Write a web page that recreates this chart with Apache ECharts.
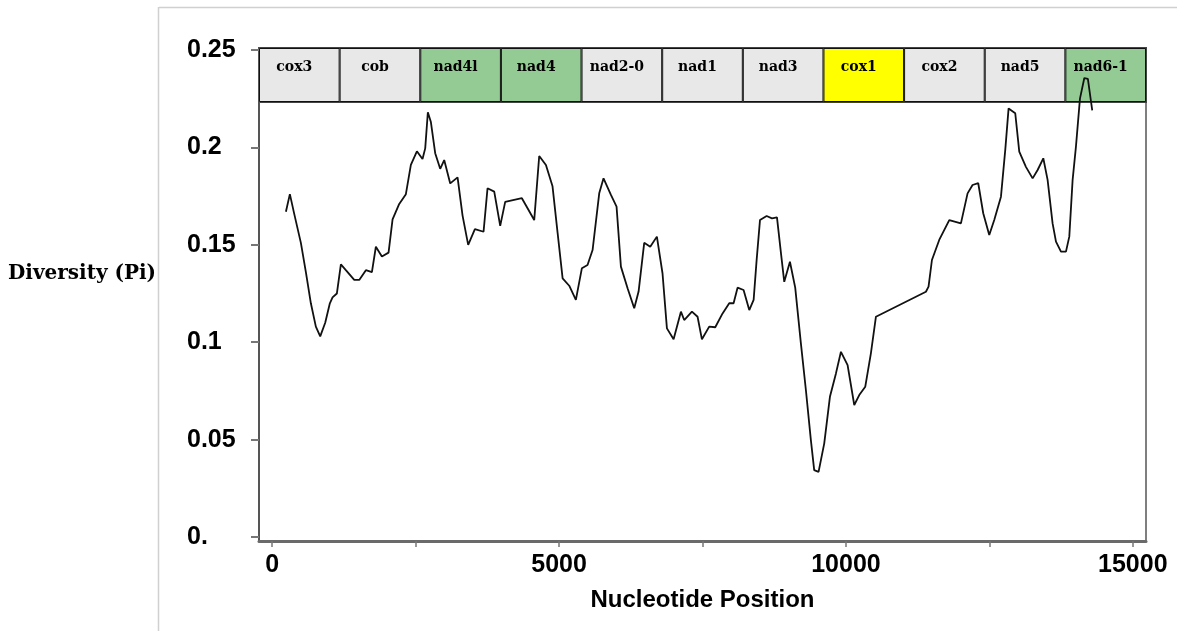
<!DOCTYPE html>
<html>
<head>
<meta charset="utf-8">
<script src="https://cdn.jsdelivr.net/npm/echarts@6/dist/echarts.min.js"></script>
<style>
html,body{margin:0;padding:0;background:#fff;}
#chart{width:1177px;height:631px;}
</style>
</head>
<body>
<div id="chart"></div>
<script>
// ---- data ----
const positions = [239, 308, 383, 500, 587, 674, 761, 837, 924, 1005, 1052, 1127, 1197, 1284, 1430, 1517, 1633, 1738, 1807, 1912, 2028, 2098, 2214, 2330, 2417, 2522, 2620, 2667, 2713, 2766, 2841, 2928, 2998, 3103, 3231, 3318, 3416, 3533, 3684, 3753, 3870, 3974, 4061, 4352, 4567, 4654, 4771, 4886, 4975, 5062, 5177, 5293, 5398, 5496, 5584, 5700, 5775, 5904, 6002, 6078, 6194, 6310, 6386, 6484, 6589, 6705, 6803, 6880, 6996, 7124, 7181, 7316, 7414, 7490, 7617, 7722, 7850, 7966, 8042, 8111, 8216, 8315, 8391, 8443, 8502, 8618, 8711, 8798, 8868, 8925, 9024, 9116, 9215, 9302, 9389, 9447, 9523, 9622, 9721, 9826, 9913, 10029, 10145, 10232, 10337, 10435, 10523, 11394, 11440, 11499, 11626, 11801, 12004, 12120, 12207, 12306, 12393, 12498, 12585, 12702, 12777, 12835, 12951, 13021, 13137, 13254, 13341, 13440, 13515, 13602, 13661, 13748, 13835, 13893, 13951, 14009, 14079, 14155, 14217, 14241, 14293];
const diversity = [0.167, 0.176, 0.166, 0.151, 0.136, 0.120, 0.108, 0.103, 0.110, 0.120, 0.123, 0.125, 0.140, 0.137, 0.132, 0.132, 0.137, 0.136, 0.149, 0.144, 0.146, 0.163, 0.171, 0.176, 0.191, 0.198, 0.194, 0.1995, 0.218, 0.213, 0.197, 0.189, 0.1935, 0.1815, 0.1846, 0.165, 0.150, 0.158, 0.1567, 0.179, 0.1773, 0.1597, 0.172, 0.1739, 0.1627, 0.1956, 0.191, 0.180, 0.156, 0.1328, 0.1290, 0.1217, 0.138, 0.1396, 0.1473, 0.1764, 0.1841, 0.1756, 0.1696, 0.1388, 0.1277, 0.1174, 0.126, 0.151, 0.149, 0.1542, 0.1354, 0.1071, 0.1015, 0.1157, 0.1114, 0.1157, 0.1131, 0.1015, 0.108, 0.1077, 0.1148, 0.120, 0.120, 0.128, 0.1268, 0.1165, 0.1217, 0.142, 0.1627, 0.1648, 0.1636, 0.1641, 0.1456, 0.131, 0.1413, 0.128, 0.0994, 0.0755, 0.0498, 0.0344, 0.0335, 0.0481, 0.072, 0.084, 0.0951, 0.0883, 0.0678, 0.0729, 0.0772, 0.0943, 0.1131, 0.1259, 0.1285, 0.1422, 0.1525, 0.1627, 0.161, 0.1764, 0.1807, 0.1816, 0.1662, 0.155, 0.1627, 0.1747, 0.1987, 0.220, 0.2175, 0.1978, 0.190, 0.1841, 0.1884, 0.1944, 0.1833, 0.161, 0.1516, 0.1465, 0.1465, 0.1542, 0.1833, 0.2004, 0.225, 0.2356, 0.2352, 0.230, 0.219];

const genes = ['cox3', 'cob', 'nad4l', 'nad4', 'nad2-0', 'nad1', 'nad3', 'cox1', 'cox2', 'nad5', 'nad6-1'];

const xTickValues = [0, 2500, 5000, 7500, 10000, 12500, 15000];
const xLabelValues = [0, 5000, 10000, 15000];
const yTickValues = [0, 0.05, 0.1, 0.15, 0.2, 0.25];
const yTickLabels = ['0.', '0.05', '0.1', '0.15', '0.2', '0.25'];

// ---- styles ----
const geneFill = { 'nad4l': '#94cb94', 'nad4': '#94cb94', 'nad6-1': '#94cb94', 'cox1': '#ffff00' };
const defaultFill = '#e8e8e8';

const chart = echarts.init(document.getElementById('chart'), null, { renderer: 'canvas' });

const linePoints = positions.map((p, i) => [p, diversity[i]]);
const bandData = genes.map(g => ({ value: 1, itemStyle: { color: geneFill[g] || defaultFill } }));

const tickFont = { fontFamily: '"Liberation Sans", Arial, sans-serif', fontWeight: 'bold', fontSize: 25, color: '#000' };

chart.setOption({
  animation: false,
  backgroundColor: '#fff',
  graphic: [
    { type: 'line', shape: { x1: 159, y1: 7.5, x2: 1177, y2: 7.5 }, style: { stroke: '#d0d0d0', lineWidth: 1.5 }, z: 0 },
    { type: 'line', shape: { x1: 158.5, y1: 7, x2: 158.5, y2: 631 }, style: { stroke: '#d0d0d0', lineWidth: 1.5 }, z: 0 },
    { type: 'text', left: 8, top: 264, style: { text: 'Diversity (Pi)', font: 'bold 20px "DejaVu Serif", serif', fill: '#000' }, z: 10 }
  ],
  grid: [
    { left: 259, right: 31, top: 48, bottom: 90, show: true, borderColor: '#555', borderWidth: 1.5, backgroundColor: 'transparent' },
    { left: 259, right: 31, top: 48, height: 54, show: true, borderColor: '#444', borderWidth: 2, backgroundColor: 'transparent' }
  ],
  xAxis: [
    {
      type: 'value', gridIndex: 0, min: -230, max: 15230,
      axisLine: { show: true, onZero: false, lineStyle: { color: '#6a6a6a', width: 3 } },
      axisTick: { show: true, customValues: xTickValues, length: 6, lineStyle: { color: '#777', width: 1.5 } },
      axisLabel: { show: true, customValues: xLabelValues, margin: 12, formatter: v => String(v), ...tickFont },
      splitLine: { show: false },
      name: 'Nucleotide Position', nameLocation: 'middle', nameGap: 47,
      nameTextStyle: { fontFamily: '"Liberation Sans", Arial, sans-serif', fontWeight: 'bold', fontSize: 24, color: '#000' }
    },
    {
      type: 'category', gridIndex: 1, data: genes,
      axisLine: { show: false }, axisTick: { show: false }, axisLabel: { show: false }, splitLine: { show: false }
    }
  ],
  yAxis: [
    {
      type: 'value', gridIndex: 0, min: -0.002, max: 0.251,
      axisLine: { show: true, onZero: false, lineStyle: { color: '#555', width: 2 } },
      axisTick: { show: true, customValues: yTickValues, length: 8, lineStyle: { color: '#777', width: 2 } },
      axisLabel: {
        show: true, customValues: yTickValues, margin: 72, align: 'left', ...tickFont,
        formatter: v => { const i = yTickValues.findIndex(t => Math.abs(t - v) < 1e-6); return i >= 0 ? yTickLabels[i] : ''; }
      },
      splitLine: { show: false }
    },
    {
      type: 'value', gridIndex: 1, min: 0, max: 1,
      axisLine: { show: false }, axisTick: { show: false }, axisLabel: { show: false }, splitLine: { show: false }
    }
  ],
  series: [
    {
      type: 'bar', xAxisIndex: 1, yAxisIndex: 1, data: bandData,
      barWidth: '100%', barCategoryGap: 0, z: 2,
      itemStyle: { borderColor: '#111', borderWidth: 1 },
      label: {
        show: true, position: 'insideTop', distance: 12, offset: [-5, 0],
        formatter: p => p.name,
        fontFamily: '"DejaVu Serif", serif', fontWeight: 'bold', fontSize: 14, color: '#000'
      },
      silent: true
    },
    {
      type: 'line', xAxisIndex: 0, yAxisIndex: 0, data: linePoints,
      showSymbol: false, symbol: 'none', smooth: false, z: 10,
      lineStyle: { color: '#111', width: 1.8 }, clip: false
    }
  ]
});
</script>
</body>
</html>
